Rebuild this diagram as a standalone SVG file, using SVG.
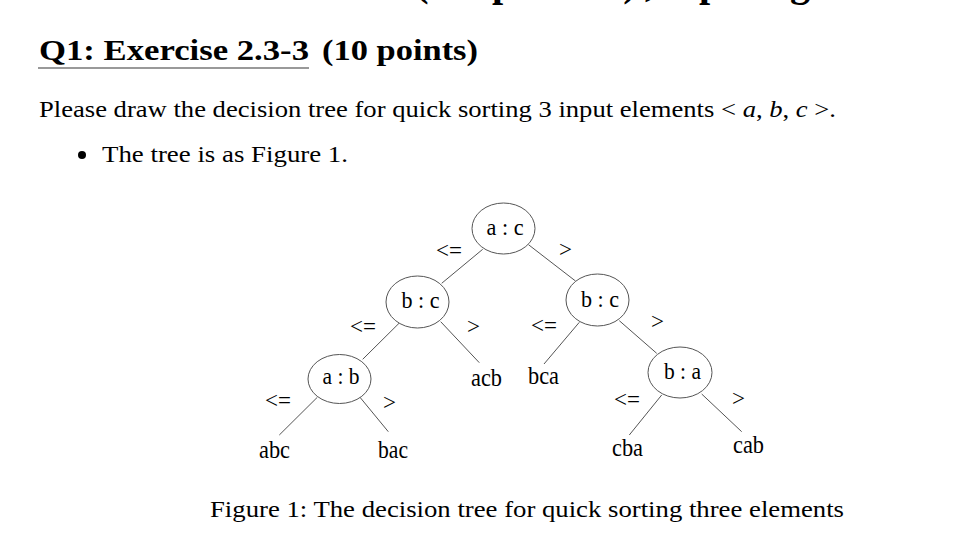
<svg xmlns="http://www.w3.org/2000/svg" width="953" height="549" viewBox="0 0 953 549">
<style>
.frag{font-family:"Liberation Serif",serif;font-weight:bold;font-size:40px;fill:#000;text-anchor:middle}
.h{font-family:"Liberation Serif",serif;font-weight:bold;font-size:29px;fill:#000}
.b{font-family:"Liberation Serif",serif;font-size:24px;fill:#000}
.node ellipse{fill:#fff;stroke:#555;stroke-width:1}
.nt{font-family:"Liberation Serif",serif;font-size:24px;fill:#000;text-anchor:middle}
.leaf{font-family:"Liberation Serif",serif;font-size:25px;fill:#000;text-anchor:middle}
.el{font-family:"Liberation Serif",serif;font-size:23px;fill:#000}
#edges line{stroke:#555;stroke-width:1}
</style>
<rect width="953" height="549" fill="#fff"/>
<g id="title-fragment">
<text class="frag" x="422" y="-4">(</text>
<text class="frag" x="503" y="-4">p</text>
<text class="frag" x="630" y="-4">)</text>
<text class="frag" x="650" y="-4">,</text>
<text class="frag" x="710" y="-4">p</text>
<text class="frag" x="800" y="-4">g</text>
</g>
<g id="heading">
<text class="h" x="39" y="60" textLength="270" lengthAdjust="spacingAndGlyphs">Q1: Exercise 2.3-3</text>
<text class="h" x="322" y="60" textLength="156" lengthAdjust="spacingAndGlyphs">(10 points)</text>
<line x1="38" y1="68" x2="309" y2="68" stroke="#999" stroke-width="2"/>
</g>
<g id="body">
<text class="b" x="39" y="117" textLength="797" lengthAdjust="spacingAndGlyphs">Please draw the decision tree for quick sorting 3 input elements &lt; <tspan font-style="italic">a</tspan>, <tspan font-style="italic">b</tspan>, <tspan font-style="italic">c</tspan> &gt;.</text>
<circle cx="82" cy="155" r="4" fill="#000"/>
<text class="b" x="102" y="162" textLength="246" lengthAdjust="spacingAndGlyphs">The tree is as Figure 1.</text>
</g>
<g id="edges">
<line x1="482.7" y1="249.3" x2="441.7" y2="283.3"/>
<line x1="528.5" y1="244.7" x2="575.5" y2="281"/>
<line x1="399" y1="323.3" x2="362.7" y2="359.3"/>
<line x1="440.7" y1="321.7" x2="479.3" y2="362.7"/>
<line x1="579.3" y1="322.3" x2="544" y2="364"/>
<line x1="619.3" y1="320.7" x2="656.7" y2="353.3"/>
<line x1="317.3" y1="397.3" x2="279.3" y2="435"/>
<line x1="360" y1="397.3" x2="388.3" y2="431.7"/>
<line x1="661.7" y1="395" x2="629.3" y2="435"/>
<line x1="701.7" y1="394" x2="741.7" y2="431.7"/>
</g>
<g id="edge-labels">
<text class="el" x="436" y="258">&lt;=</text>
<text class="el" x="559" y="257">&gt;</text>
<text class="el" x="350" y="334">&lt;=</text>
<text class="el" x="467" y="334">&gt;</text>
<text class="el" x="531" y="333">&lt;=</text>
<text class="el" x="651" y="329">&gt;</text>
<text class="el" x="265" y="408">&lt;=</text>
<text class="el" x="383" y="410">&gt;</text>
<text class="el" x="614" y="407">&lt;=</text>
<text class="el" x="732" y="406">&gt;</text>
</g>
<g id="n-ac" class="node"><ellipse cx="503.5" cy="228.5" rx="31.5" ry="25.5"/><text class="nt" x="505" y="234.5" textLength="37" lengthAdjust="spacingAndGlyphs">a : c</text></g>
<g id="n-bc-left" class="node"><ellipse cx="417.5" cy="302" rx="31.5" ry="26"/><text class="nt" x="420.5" y="308" textLength="38" lengthAdjust="spacingAndGlyphs">b : c</text></g>
<g id="n-bc-right" class="node"><ellipse cx="597.5" cy="300" rx="31.5" ry="26"/><text class="nt" x="600" y="306.5" textLength="38" lengthAdjust="spacingAndGlyphs">b : c</text></g>
<g id="n-ab" class="node"><ellipse cx="339.5" cy="379" rx="31.5" ry="24.5"/><text class="nt" x="341" y="384" textLength="37" lengthAdjust="spacingAndGlyphs">a : b</text></g>
<g id="n-ba" class="node"><ellipse cx="680" cy="372.5" rx="32" ry="25.5"/><text class="nt" x="682.5" y="378.5" textLength="37" lengthAdjust="spacingAndGlyphs">b : a</text></g>
<g id="leaf-abc"><text class="leaf" x="274.5" y="458" textLength="31" lengthAdjust="spacingAndGlyphs">abc</text></g>
<g id="leaf-bac"><text class="leaf" x="393" y="458" textLength="30" lengthAdjust="spacingAndGlyphs">bac</text></g>
<g id="leaf-acb"><text class="leaf" x="486.5" y="386" textLength="31" lengthAdjust="spacingAndGlyphs">acb</text></g>
<g id="leaf-bca"><text class="leaf" x="543.5" y="384" textLength="31" lengthAdjust="spacingAndGlyphs">bca</text></g>
<g id="leaf-cba"><text class="leaf" x="627.5" y="456" textLength="31" lengthAdjust="spacingAndGlyphs">cba</text></g>
<g id="leaf-cab"><text class="leaf" x="748.5" y="453" textLength="31" lengthAdjust="spacingAndGlyphs">cab</text></g>
<g id="caption">
<text class="b" x="210" y="517" textLength="634" lengthAdjust="spacingAndGlyphs">Figure 1: The decision tree for quick sorting three elements</text>
</g>
</svg>
